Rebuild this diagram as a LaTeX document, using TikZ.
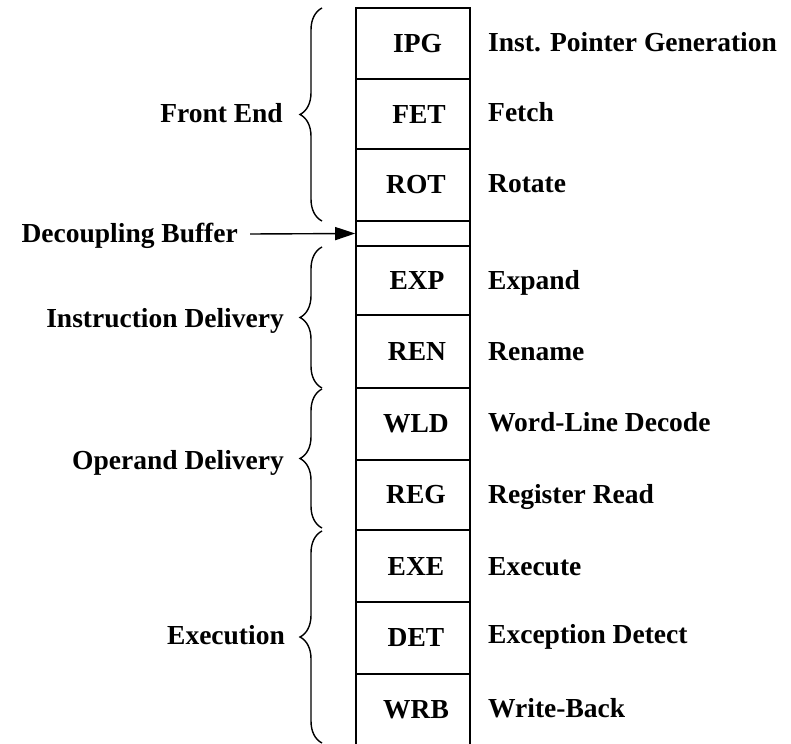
\documentclass[tikz,border=0pt]{standalone}
\usepackage{fontspec}
\setmainfont{Liberation Serif}
\usetikzlibrary{decorations.pathreplacing,arrows.meta}
\begin{document}
\begin{tikzpicture}[x=1pt,y=-1pt,
  lbl/.style={font=\bfseries\fontsize{27.5}{30}\selectfont, inner sep=0pt},
  stage/.style={draw, line width=1.6pt, minimum width=114pt, inner sep=0pt,
                font=\bfseries\fontsize{27.5}{30}\selectfont},
  desc/.style={lbl, anchor=base west},
  group/.style={lbl, anchor=base east},
  curly/.style={draw, line width=1.4pt,
                decorate, decoration={brace, amplitude=22pt, aspect=0.5}},
  pointer/.style={line width=1.4pt, -{Triangle[length=20pt,width=13pt]}}]
\useasboundingbox (0,0) rectangle (791,743);

% pipeline stages
\node[stage, minimum height=71pt] (ipg) at (413,43.5)  {\hspace*{9pt}IPG};
\node[stage, minimum height=70pt] (fet) at (413,114)   {\hspace*{12pt}FET};
\node[stage, minimum height=72pt] (rot) at (413,185)   {\hspace*{6pt}ROT};
\node[stage, minimum height=25pt] (buf) at (413,233.5) {};
\node[stage, minimum height=69pt] (exp) at (413,280.5) {\hspace*{8pt}EXP};
\node[stage, minimum height=73pt] (ren) at (413,351.5) {\hspace*{8pt}REN};
\node[stage, minimum height=72pt] (wld) at (413,424)   {\hspace*{6pt}WLD};
\node[stage, minimum height=70pt] (reg) at (413,495)   {\hspace*{6pt}REG};
\node[stage, minimum height=72pt] (exe) at (413,566)   {\hspace*{6pt}EXE};
\node[stage, minimum height=72pt] (det) at (413,638)   {\hspace*{6pt}DET};
\node[stage, minimum height=72pt] (wrb) at (413,710)   {\hspace*{6pt}WRB};

% stage descriptions
\node[desc] (dipg) at (488,52)  {Inst. Pointer Generation};
\node[desc] (dfet) at (488,122) {Fetch};
\node[desc] (drot) at (488,193) {Rotate};
\node[desc] (dexp) at (488,289) {Expand};
\node[desc] (dren) at (488,360) {Rename};
\node[desc] (dwld) at (488,431) {Word-Line Decode};
\node[desc] (dreg) at (488,503) {Register Read};
\node[desc] (dexe) at (488,575) {Execute};
\node[desc] (ddet) at (488,643) {Exception Detect};
\node[desc] (dwrb) at (488,717) {Write-Back};

% grouping braces
\draw[curly] (322,221) -- (322,8);
\draw[curly] (322,388) -- (322,247);
\draw[curly] (322,528) -- (322,389);
\draw[curly] (322,743) -- (322,531);

\node[group] (gfe)  at (283,123) {Front End};
\node[group] (gid)  at (284,327) {Instruction Delivery};
\node[group] (god)  at (284,469) {Operand Delivery};
\node[group] (gex)  at (285,644) {Execution};

% decoupling buffer pointer
\node[group] (gdb) at (238,242) {Decoupling Buffer};
\coordinate (dbtail) at (250,234);
\draw[pointer] (dbtail) -- (buf.west);
\end{tikzpicture}
\end{document}
